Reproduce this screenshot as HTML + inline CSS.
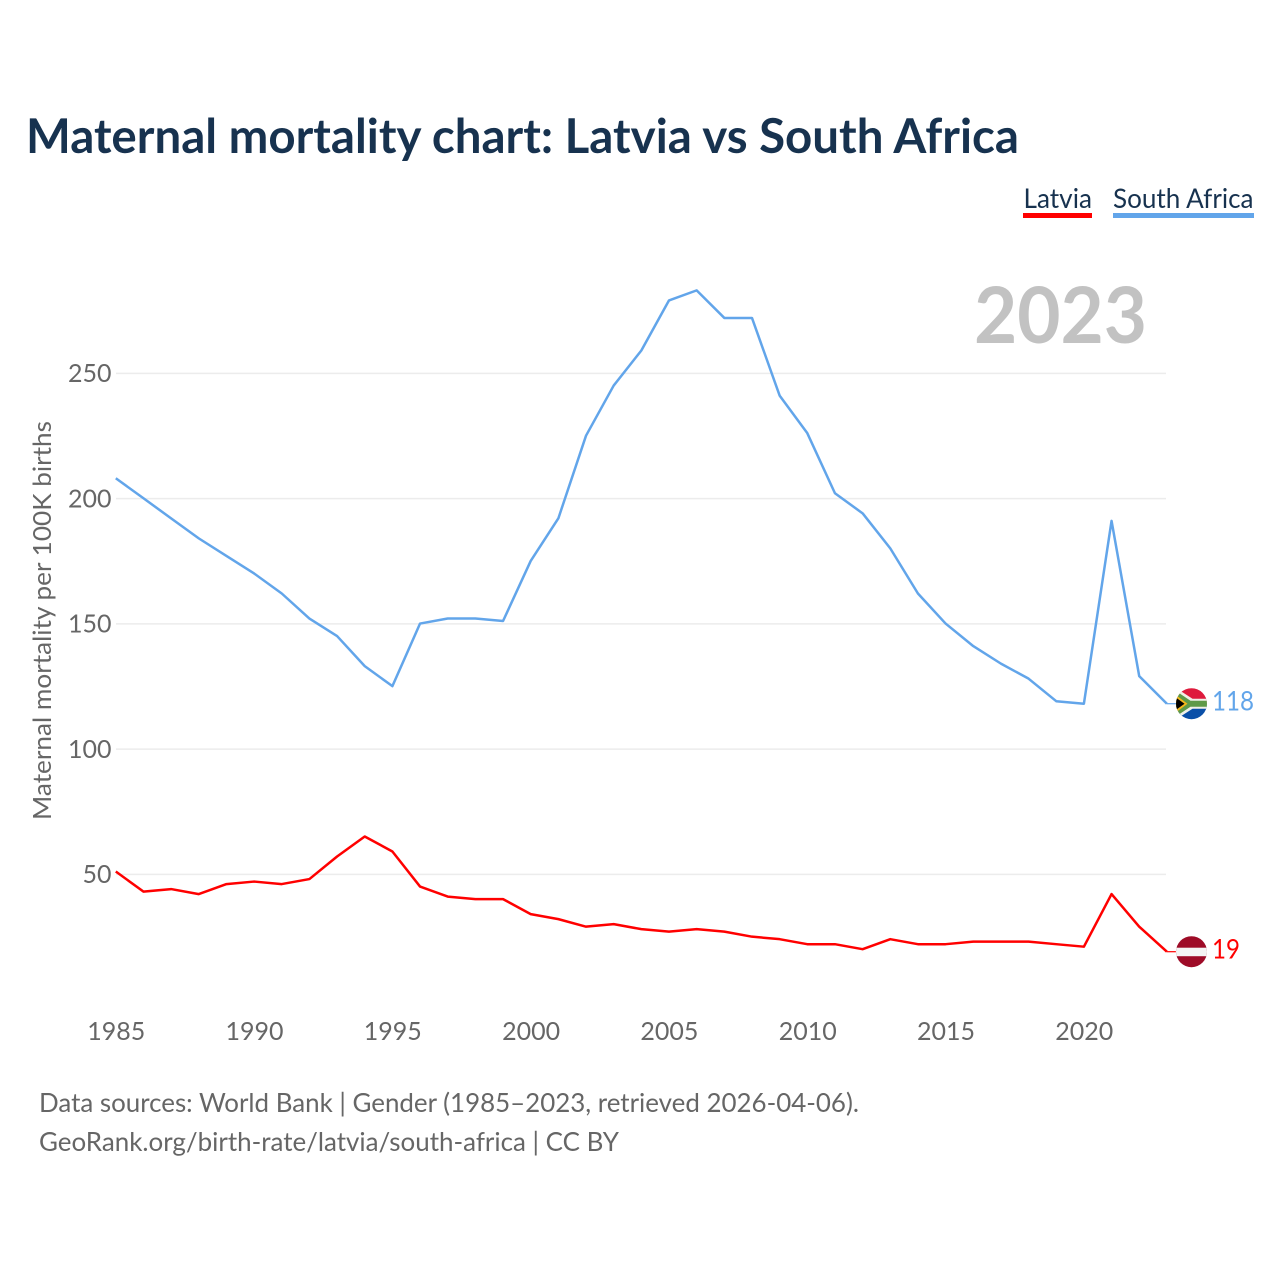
<!DOCTYPE html>
<html lang="en">
<head>
<meta charset="utf-8">
<title>Maternal mortality chart: Latvia vs South Africa</title>
<style>
html,body{margin:0;padding:0;background:#fff;width:1280px;height:1280px;overflow:hidden}
svg{display:block}
text{font-family:"Lato","Carlito","Liberation Sans",sans-serif}
</style>
</head>
<body>
<svg id="chart" xmlns="http://www.w3.org/2000/svg" width="1280" height="1280" viewBox="0 0 1280 1280">
  <defs>
    <clipPath id="za-clip"><circle cx="0" cy="0" r="15.5"/></clipPath>
    <clipPath id="lv-clip"><circle cx="0" cy="0" r="15.5"/></clipPath>
  </defs>
  <text x="26" y="153" font-size="48" font-weight="700" fill="#17324f" textLength="993" lengthAdjust="spacingAndGlyphs">Maternal mortality chart: Latvia vs South Africa</text>

  <g>
    <text x="1023.5" y="208" font-size="27" fill="#17324f" textLength="68.5" lengthAdjust="spacingAndGlyphs">Latvia</text>
    <rect x="1023" y="213" width="69" height="5" fill="#ff0000"/>
  </g>
  <g>
    <text x="1113" y="208" font-size="27" fill="#17324f" textLength="140.5" lengthAdjust="spacingAndGlyphs">South Africa</text>
    <rect x="1113" y="213" width="141" height="5" fill="#62a5ea"/>
  </g>

  <text x="974" y="343" font-size="78" font-weight="700" fill="#c2c2c2" textLength="173" lengthAdjust="spacingAndGlyphs">2023</text>

  <g id="grid"></g>
  <g id="y-axis"></g>
  <g id="x-axis"></g>

  <text transform="translate(51,820) rotate(-90)" font-size="25.5" fill="#666666" textLength="399" lengthAdjust="spacingAndGlyphs">Maternal mortality per 100K births</text>

  <path id="line-south-africa" fill="none" stroke="#62a5ea" stroke-width="2.5" stroke-linejoin="round"/>
  <path id="line-latvia" fill="none" stroke="#ff0000" stroke-width="2.5" stroke-linejoin="round"/>

  <line id="connector-south-africa" stroke="#62a5ea" stroke-width="1.2"/>
  <line id="connector-latvia" stroke="#ff0000" stroke-width="1.2"/>

  <g id="flag-south-africa">
    <g clip-path="url(#za-clip)">
      <rect x="-16" y="-16" width="32" height="16" fill="#de1a3c"/>
      <rect x="-16" y="0" width="32" height="16" fill="#0a4fa8"/>
      <path d="M-16,-16 L1,-5 L16,-5 L16,5 L1,5 L-16,16 Z" fill="#f0f0e8"/>
      <path d="M-16,-13 L-1,-3 L16,-3 L16,3 L-1,3 L-16,13 Z" fill="#5f9a48"/>
      <path d="M-16,-9 L-4,0 L-16,9 Z" fill="#f5b81c"/>
      <path d="M-16,-6.5 L-7,0 L-16,6.5 Z" fill="#000000"/>
    </g>
  </g>
  <g id="flag-latvia">
    <g clip-path="url(#lv-clip)">
      <rect x="-16" y="-16" width="32" height="32" fill="#9e0b27"/>
      <rect x="-16" y="-4" width="32" height="8.5" fill="#f4f4f4"/>
    </g>
  </g>

  <text id="value-south-africa" x="1212" font-size="27" fill="#62a5ea" textLength="42" lengthAdjust="spacingAndGlyphs">118</text>
  <text id="value-latvia" x="1212" font-size="27" fill="#ff0000" textLength="28" lengthAdjust="spacingAndGlyphs">19</text>

  <text x="39" y="1112" font-size="26.5" fill="#666666" textLength="820" lengthAdjust="spacingAndGlyphs">Data sources: World Bank | Gender (1985–2023, retrieved 2026-04-06).</text>
  <text x="39" y="1151" font-size="26.5" fill="#666666" textLength="580" lengthAdjust="spacingAndGlyphs">GeoRank.org/birth-rate/latvia/south-africa | CC BY</text>
</svg>
<script>
const years = [1985,1986,1987,1988,1989,1990,1991,1992,1993,1994,1995,1996,1997,1998,1999,2000,2001,2002,2003,2004,2005,2006,2007,2008,2009,2010,2011,2012,2013,2014,2015,2016,2017,2018,2019,2020,2021,2022,2023];
const southAfrica = [208,200,192,184,177,170,162,152,145,133,125,150,152,152,151,175,192,225,245,259,279,283,272,272,241,226,202,194,180,162,150,141,134,128,119,118,191,129,118];
const latvia = [51,43,44,42,46,47,46,48,57,65,59,45,41,40,40,34,32,29,30,28,27,28,27,25,24,22,22,20,24,22,22,23,23,23,22,21,42,29,19];
const yTicks = [50,100,150,200,250];
const xTicks = [1985,1990,1995,2000,2005,2010,2015,2020];

const NS = 'http://www.w3.org/2000/svg';
function xScale(year){ return 115.8 + (year - 1985) * 27.66; }
function yScale(v){ return 999.3 - v * 2.505; }
function linePath(values){
  return values.map((v,i)=>(i?'L':'M')+xScale(years[i]).toFixed(2)+','+yScale(v).toFixed(2)).join(' ');
}

const grid = document.getElementById('grid');
const yAxis = document.getElementById('y-axis');
const xAxis = document.getElementById('x-axis');

yTicks.forEach(function(t){
  const ln = document.createElementNS(NS,'line');
  
  
  ln.setAttribute('x1', 116);
  ln.setAttribute('x2', 1166);
  ln.setAttribute('y1', yScale(t) + 0.3);
  ln.setAttribute('y2', yScale(t) + 0.3);
  ln.setAttribute('stroke', '#ececec');
  ln.setAttribute('stroke-width', '1.5');
  grid.appendChild(ln);

  const tx = document.createElementNS(NS,'text');
  
  
  tx.setAttribute('x', 111.5);
  tx.setAttribute('y', yScale(t) + 9);
  tx.setAttribute('text-anchor', 'end');
  tx.setAttribute('font-size', '25');
  tx.setAttribute('fill', '#666666');
  tx.textContent = t;
  yAxis.appendChild(tx);
});

xTicks.forEach(function(t){
  const tx = document.createElementNS(NS,'text');
  
  
  tx.setAttribute('x', xScale(t) + 0.4);
  tx.setAttribute('y', 1040);
  tx.setAttribute('text-anchor', 'middle');
  tx.setAttribute('font-size', '25');
  tx.setAttribute('fill', '#666666');
  tx.textContent = t;
  xAxis.appendChild(tx);
});

document.getElementById('line-south-africa').setAttribute('d', linePath(southAfrica));
document.getElementById('line-latvia').setAttribute('d', linePath(latvia));

function endMarker(key, values){
  const last = values[values.length-1];
  const y = yScale(last);
  const x = xScale(years[years.length-1]);
  const c = document.getElementById('connector-'+key);
  c.setAttribute('x1', x);
  c.setAttribute('x2', x+9);
  c.setAttribute('y1', y);
  c.setAttribute('y2', y);
  document.getElementById('flag-'+key).setAttribute('transform','translate(1191.5,'+y+')');
  const v = document.getElementById('value-'+key);
  v.setAttribute('y', y + 7);
  v.textContent = last;
}
endMarker('south-africa', southAfrica);
endMarker('latvia', latvia);
</script>
</body>
</html>
